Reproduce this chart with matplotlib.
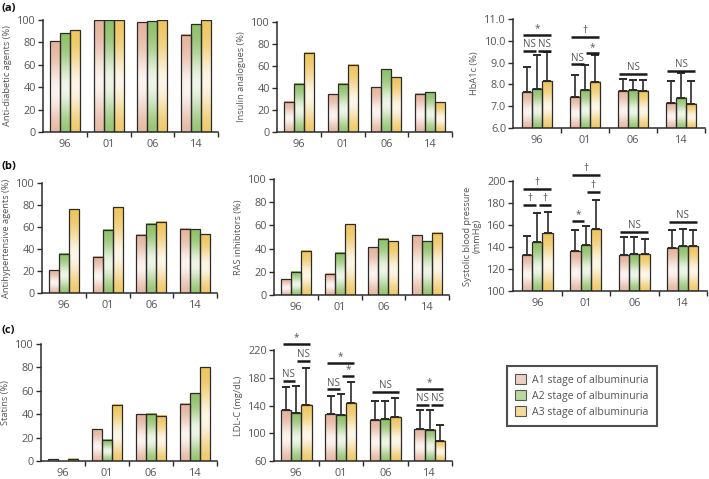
import numpy as np
import matplotlib
matplotlib.use("Agg")
import matplotlib.pyplot as plt
from matplotlib.patches import Patch
from matplotlib.colors import to_rgb

plt.rcParams['font.family'] = ['Open Sans', 'DejaVu Sans']

# ---------------- data ----------------
years = ['96', '01', '06', '14']
stages = ['A1 stage of albuminuria', 'A2 stage of albuminuria', 'A3 stage of albuminuria']

antidiabetic_a1 = [81, 100, 98, 87]
antidiabetic_a2 = [88, 100, 99, 96]
antidiabetic_a3 = [91, 100, 100, 100]

insulin_a1 = [27.5, 34.5, 40.5, 35]
insulin_a2 = [44, 44, 57, 36]
insulin_a3 = [72, 61, 50, 27]

hba1c_a1 = [7.63, 7.43, 7.70, 7.15]
hba1c_a2 = [7.81, 7.76, 7.73, 7.38]
hba1c_a3 = [8.15, 8.12, 7.70, 7.12]
hba1c_err_top_a1 = [8.78, 8.45, 8.27, 8.15]
hba1c_err_top_a2 = [9.37, 8.88, 8.22, 8.50]
hba1c_err_top_a3 = [9.47, 9.34, 8.22, 8.15]

antihyp_a1 = [20.5, 33, 53, 58.5]
antihyp_a2 = [35.5, 57.5, 63, 58]
antihyp_a3 = [76, 78, 65, 53.5]

ras_a1 = [13.5, 18.5, 41, 51.5]
ras_a2 = [20, 36.5, 48.5, 46.5]
ras_a3 = [38, 61, 46.5, 53.5]

sbp_a1 = [132.9, 136.3, 132.6, 139.3]
sbp_a2 = [144.4, 141.7, 133.2, 140.8]
sbp_a3 = [152.3, 156.2, 133.5, 140.8]
sbp_err_top_a1 = [150.2, 155.3, 149.0, 155.9]
sbp_err_top_a2 = [171.3, 158.9, 149.0, 156.8]
sbp_err_top_a3 = [171.9, 183.0, 147.0, 155.9]

statins_a1 = [1.5, 27, 40, 49]
statins_a2 = [0, 18, 40.5, 58]
statins_a3 = [1.8, 48, 38.5, 80]

ldl_a1 = [132.8, 127.5, 119.8, 105.8]
ldl_a2 = [129.4, 126.5, 120.2, 105.3]
ldl_a3 = [141.4, 144.3, 124.1, 88.9]
ldl_err_top_a1 = [166.5, 153.5, 146.3, 132.8]
ldl_err_top_a2 = [167.5, 155.9, 146.3, 133.3]
ldl_err_top_a3 = [194.0, 174.2, 151.0, 111.6]

# significance marks: (year index, from stage, to stage, level, label)
hba1c_sig = [(0, 0, 2, 10.26, '*'), (0, 0, 1, 9.53, 'NS'), (0, 1, 2, 9.53, 'NS'),
             (1, 0, 2, 10.19, '†'), (1, 0, 1, 8.92, 'NS'), (1, 1, 2, 9.42, '*'),
             (2, 0, 2, 8.47, 'NS'), (3, 0, 2, 8.62, 'NS')]
sbp_sig = [(0, 0, 2, 192.7, '†'), (0, 0, 1, 178.5, '†'), (0, 1, 2, 178.5, '†'),
           (1, 0, 2, 205.5, '†'), (1, 0, 1, 163.9, '*'), (1, 1, 2, 190.3, '†'),
           (2, 0, 2, 153.9, 'NS'), (3, 0, 2, 162.5, 'NS')]
ldl_sig = [(0, 0, 2, 228.2, '*'), (0, 0, 1, 175.3, 'NS'), (0, 1, 2, 204.3, 'NS'),
           (1, 0, 2, 200.8, '*'), (1, 0, 1, 163.3, 'NS'), (1, 1, 2, 183.2, '*'),
           (2, 0, 2, 159.9, 'NS'), (3, 0, 2, 163.8, '*'), (3, 0, 1, 140.7, 'NS'),
           (3, 1, 2, 140.7, 'NS')]

# ---------------- style ----------------
base_colors = ['#E4B39B', '#8DBF66', '#EEC45C']
legend_colors = ['#EDD0C2', '#B9D89D', '#F3DC98']
edge = '#2b2b2b'
txt = '#555555'
W, H = 709, 479

fig = plt.figure(figsize=(W / 100, H / 100), dpi=100)


def rect(x0, x1, ytop, ybot):
    return [x0 / W, 1 - ybot / H, (x1 - x0) / W, (ybot - ytop) / H]


def gradient(color, n=64):
    c = np.array(to_rgb(color))
    t = np.linspace(0, 1, n)
    w = 0.85 * np.exp(-((t - 0.45) / 0.30) ** 2)
    g = c[None, :] * (1 - w[:, None]) + np.ones(3)[None, :] * w[:, None]
    return g[:, None, :]


def panel(pos, series, ylim, yticks, ylabel, bw, errtops=None, sig=None,
          fmt=None, label_pad=4):
    ax = fig.add_axes(pos)
    x = np.arange(len(years))
    ylo = ylim[0]
    for k, vals in enumerate(series):
        xs = x + (k - 1) * bw
        for i, v in enumerate(vals):
            if v <= ylo:
                continue
            ax.imshow(gradient(base_colors[k]), extent=(xs[i] - bw / 2, xs[i] + bw / 2, ylo, v),
                      origin='lower', aspect='auto', zorder=1, interpolation='bilinear')
        hs = [max(v - ylo, 0) for v in vals]
        ax.bar(xs, hs, width=bw, bottom=ylo, facecolor='none',
               edgecolor=[edge if h > 0 else 'none' for h in hs], linewidth=0.9, zorder=2)
        if errtops is not None:
            et = errtops[k]
            ax.errorbar(xs, vals, yerr=[np.zeros(len(vals)), np.array(et) - np.array(vals)],
                        fmt='none', ecolor=edge, elinewidth=1.2, capsize=3.2, capthick=1.4, zorder=3)
    if sig:
        for (g, i, j, yv, lab) in sig:
            ci = g + (i - 1) * bw
            cj = g + (j - 1) * bw
            if j - i == 2:
                xa, xb = ci - 0.33 * bw, cj + 0.33 * bw
            elif i == 0:
                xa, xb = ci - 0.33 * bw, cj - 0.12 * bw
            else:
                xa, xb = ci + 0.12 * bw, cj + 0.33 * bw
            ax.plot([xa, xb], [yv, yv], color='#1a1a1a', lw=1.8, solid_capstyle='butt',
                    clip_on=False, zorder=4)
            fs = 7.0 if lab == 'NS' else 7.2
            ax.annotate(lab, xy=((xa + xb) / 2, yv), xytext=(0, 0.6), textcoords='offset points',
                        ha='center', va='bottom', fontsize=fs, color=txt, annotation_clip=False)
    ax.set_xlim(-0.5, 3.5)
    ax.set_ylim(*ylim)
    ax.set_yticks(yticks)
    if fmt:
        ax.set_yticklabels([fmt % t for t in yticks])
    ax.set_xticks(x)
    ax.set_xticklabels(years)
    ax.set_xticks([0.5, 1.5, 2.5, 3.5], minor=True)
    ax.tick_params(axis='x', which='major', length=0, pad=5, labelsize=7.8, labelcolor=txt)
    ax.tick_params(axis='x', which='minor', length=3.5, width=1.0, direction='out', color=edge)
    ax.tick_params(axis='y', length=3.5, width=1.0, direction='out', color=edge,
                   labelsize=7.8, labelcolor=txt, pad=1.5)
    for s in ['top', 'right']:
        ax.spines[s].set_visible(False)
    for s in ['left', 'bottom']:
        ax.spines[s].set_color(edge)
        ax.spines[s].set_linewidth(1.1)
    ax.set_ylabel(ylabel, fontsize=6.7, color=txt, labelpad=label_pad, linespacing=1.15)
    return ax


bw_l = 0.229
bw_r = 0.215

panel(rect(43, 218, 20, 132), [antidiabetic_a1, antidiabetic_a2, antidiabetic_a3],
      (0, 100), range(0, 101, 20), 'Anti-diabetic agents (%)', bw_l)
panel(rect(277, 452, 22, 132), [insulin_a1, insulin_a2, insulin_a3],
      (0, 100), range(0, 101, 20), 'Insulin analogues (%)', bw_l)
panel(rect(513, 705, 19, 128), [hba1c_a1, hba1c_a2, hba1c_a3],
      (6.0, 11.0), np.arange(6.0, 11.01, 1.0), 'HbA1c (%)', bw_r,
      errtops=[hba1c_err_top_a1, hba1c_err_top_a2, hba1c_err_top_a3], sig=hba1c_sig, fmt='%.1f')

panel(rect(42, 217, 183, 293), [antihyp_a1, antihyp_a2, antihyp_a3],
      (0, 100), range(0, 101, 20), 'Antihypertensive agents (%)', bw_l)
panel(rect(274, 449, 179, 295), [ras_a1, ras_a2, ras_a3],
      (0, 100), range(0, 101, 20), 'RAS inhibitors (%)', bw_l)
panel(rect(513, 707, 181, 291), [sbp_a1, sbp_a2, sbp_a3],
      (100, 200), range(100, 201, 20), 'Systolic blood pressure\n(mmHg)', bw_r,
      errtops=[sbp_err_top_a1, sbp_err_top_a2, sbp_err_top_a3], sig=sbp_sig)

panel(rect(41, 217, 344, 461), [statins_a1, statins_a2, statins_a3],
      (0, 100), range(0, 101, 20), 'Statins (%)', bw_l)
panel(rect(274, 452, 350, 461), [ldl_a1, ldl_a2, ldl_a3],
      (60, 220), range(60, 221, 40), 'LDL-C (mg/dL)', bw_l,
      errtops=[ldl_err_top_a1, ldl_err_top_a2, ldl_err_top_a3], sig=ldl_sig)

for lab, yy in [('(a)', 8), ('(b)', 166), ('(c)', 331)]:
    fig.text(2 / W, 1 - yy / H, lab, fontsize=8, fontweight='bold', color='#111111',
             ha='left', va='center')

handles = [Patch(facecolor=legend_colors[k], edgecolor='#555555', linewidth=0.8, label=stages[k])
           for k in range(3)]
leg = fig.legend(handles=handles, loc='center', bbox_to_anchor=(582 / W, 1 - 396 / H),
                 fontsize=7.6, frameon=True, fancybox=False, handlelength=1.0, handleheight=1.0,
                 handletextpad=0.6, labelspacing=0.45, borderpad=0.8, borderaxespad=0)
leg.get_frame().set_edgecolor('#222222')
leg.get_frame().set_linewidth(1.5)
for t in leg.get_texts():
    t.set_color(txt)

fig.savefig('out.png', dpi=100)
